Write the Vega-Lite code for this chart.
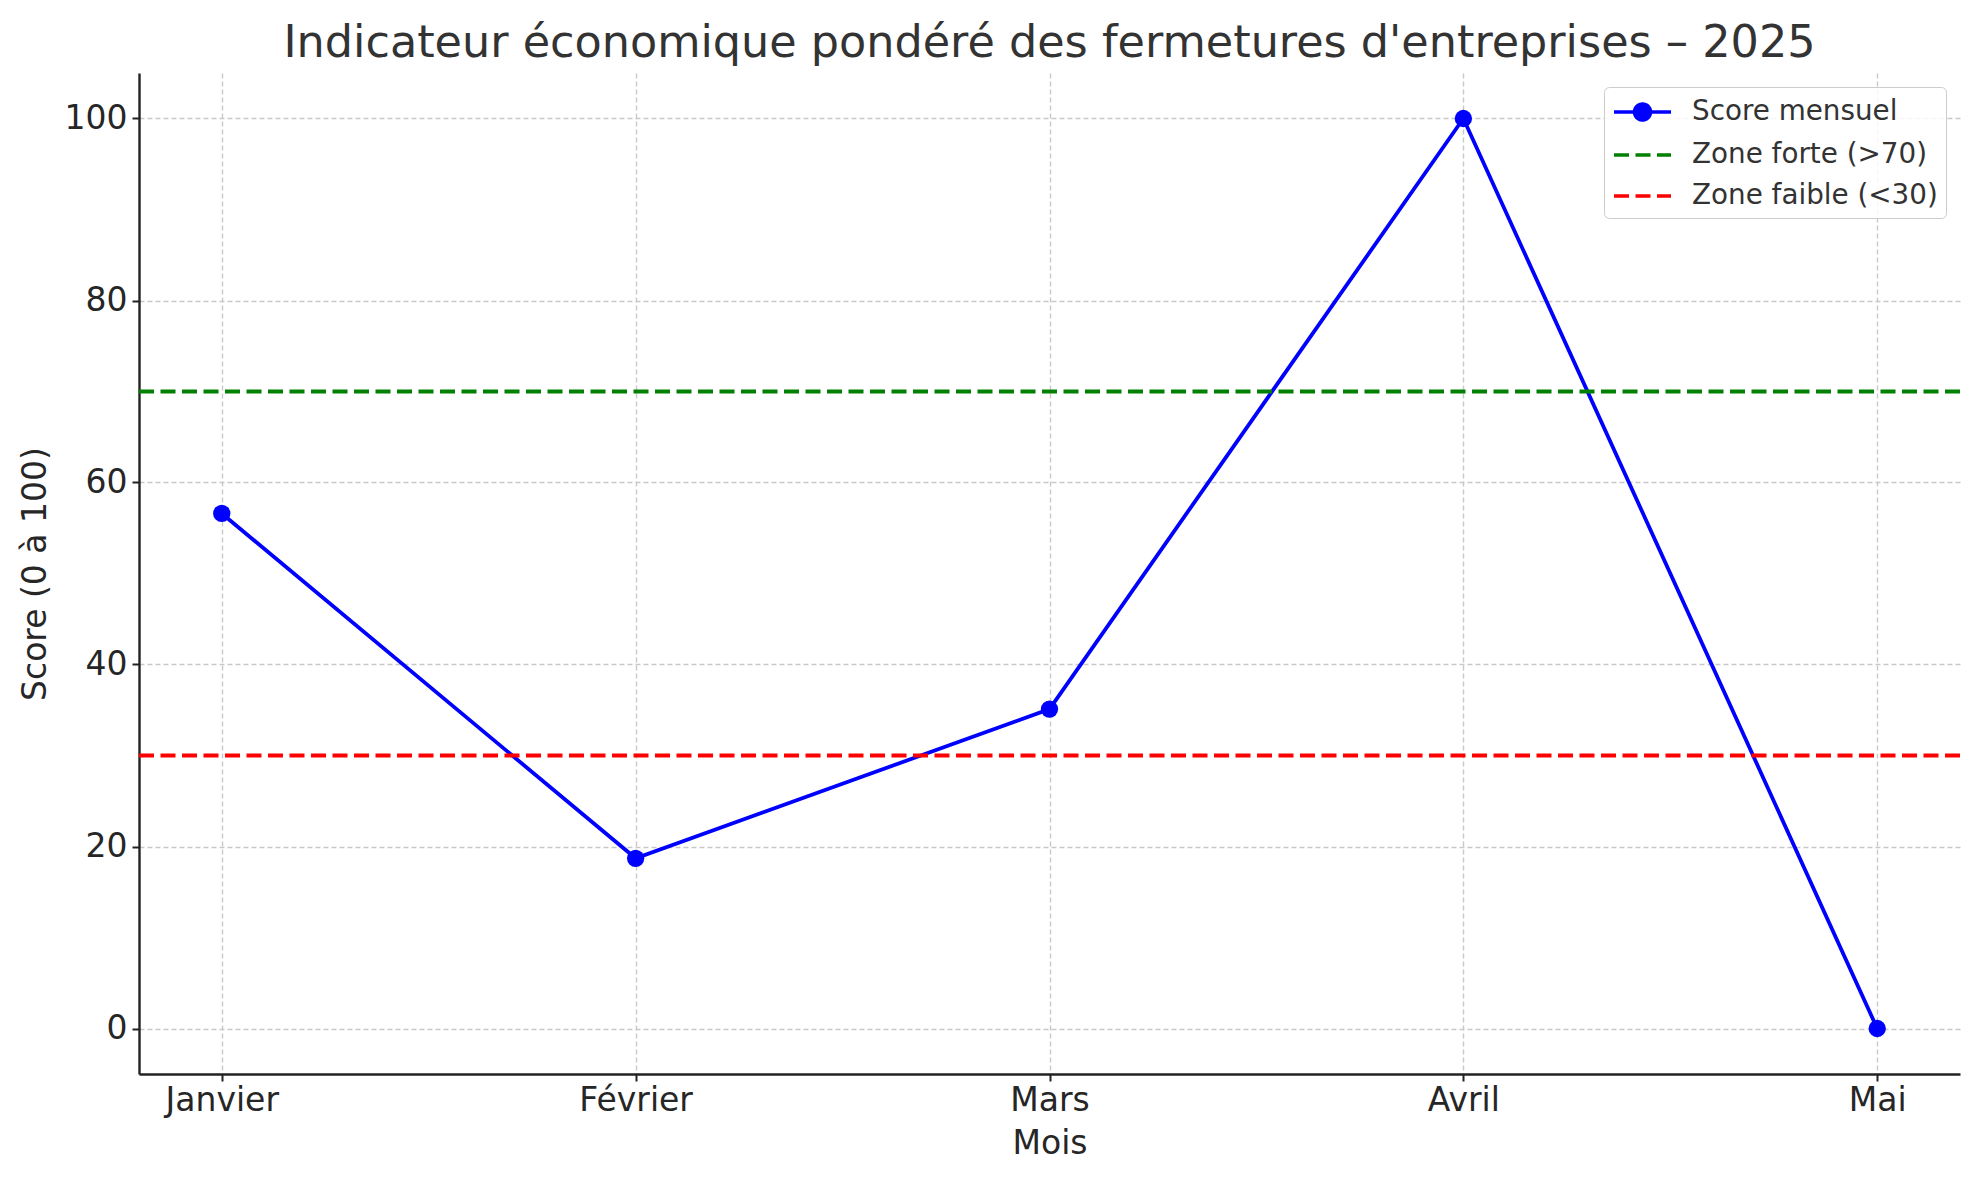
{
  "$schema": "https://vega.github.io/schema/vega-lite/v6.json",
  "width": 1821,
  "height": 1001,
  "autosize": "none",
  "padding": {"left": 139, "top": 73, "right": 19, "bottom": 106},
  "background": "white",
  "config": {
    "font": "DejaVu Sans",
    "view": {"stroke": null},
    "axis": {
      "labelFont": "DejaVu Sans",
      "titleFont": "DejaVu Sans",
      "labelFontSize": 33,
      "titleFontSize": 33,
      "titleFontWeight": "normal",
      "labelColor": "#262626",
      "titleColor": "#262626",
      "domainColor": "#222222",
      "domainWidth": 2.4,
      "tickColor": "#222222",
      "tickWidth": 2,
      "tickSize": 7,
      "grid": true,
      "gridColor": "#c8c8c8",
      "gridDash": [5, 3],
      "gridWidth": 1.4
    }
  },
  "title": {
    "text": "Indicateur économique pondéré des fermetures d'entreprises – 2025",
    "fontSize": 44.5,
    "font": "DejaVu Sans",
    "fontWeight": "normal",
    "color": "#333333",
    "anchor": "middle",
    "frame": "group",
    "offset": 16,
    "dy": 44,
    "baseline": "alphabetic"
  },
  "datasets": {
    "scores": [
      {"mois": "Janvier", "score": 56.6, "serie": "Score mensuel"},
      {"mois": "Février", "score": 18.7, "serie": "Score mensuel"},
      {"mois": "Mars", "score": 35.1, "serie": "Score mensuel"},
      {"mois": "Avril", "score": 100, "serie": "Score mensuel"},
      {"mois": "Mai", "score": 0, "serie": "Score mensuel"}
    ],
    "seuils": [
      {"serie": "Zone forte (>70)", "seuil": 70},
      {"serie": "Zone faible (<30)", "seuil": 30}
    ]
  },
  "layer": [
    {
      "data": {"name": "scores"},
      "mark": {"type": "line", "strokeWidth": 3.8, "point": {"filled": true, "size": 300, "opacity": 1}},
      "encoding": {
        "x": {
          "field": "mois",
          "type": "ordinal",
          "sort": ["Janvier", "Février", "Mars", "Avril", "Mai"],
          "scale": {"type": "point", "padding": 0.2},
          "axis": {"title": "Mois", "labelAngle": 0, "labelPadding": 3, "titlePadding": 10}
        },
        "y": {
          "field": "score",
          "type": "quantitative",
          "scale": {"domain": [-5, 105], "nice": false, "zero": false},
          "axis": {"title": "Score (0 à 100)", "values": [0, 20, 40, 60, 80, 100], "labelPadding": 5, "titlePadding": 12}
        },
        "color": {
          "field": "serie",
          "type": "nominal",
          "scale": {
            "domain": ["Score mensuel", "Zone forte (>70)", "Zone faible (<30)"],
            "range": ["#0000ff", "#008000", "#ff0000"]
          },
          "legend": {
            "title": null,
            "orient": "top-right",
            "offset": 14,
            "padding": 8,
            "strokeColor": "#cccccc",
            "fillColor": "rgba(255,255,255,0.85)",
            "cornerRadius": 5,
            "labelFontSize": 27.8,
            "labelFont": "DejaVu Sans",
            "labelColor": "#333333",
            "labelLimit": 0,
            "labelOffset": 46,
            "symbolSize": 900,
            "rowPadding": 10,
            "encode": {
              "symbols": {
                "update": {
                  "shape": {"signal": "datum.value === 'Score mensuel' ? 'M-1,0H2.8M0.37,0A0.53,0.53,0,1,1,1.43,0A0.53,0.53,0,1,1,0.37,0' : 'M-1,0H2.8'"},
                  "fill": {"signal": "datum.value === 'Score mensuel' ? '#0000ff' : 'transparent'"},
                  "strokeDash": {"signal": "datum.value === 'Score mensuel' ? [1,0] : [15,6.5]"},
                  "strokeWidth": {"value": 3.6},
                  "opacity": {"value": 1}
                }
              }
            }
          }
        }
      }
    },
    {
      "data": {"name": "seuils"},
      "mark": {"type": "rule", "strokeWidth": 3.8, "strokeDash": [15, 6.5]},
      "encoding": {
        "y": {
          "field": "seuil",
          "type": "quantitative",
          "scale": {"domain": [-5, 105], "nice": false, "zero": false},
          "axis": {"title": "Score (0 à 100)", "values": [0, 20, 40, 60, 80, 100], "labelPadding": 5, "titlePadding": 12}
        },
        "color": {"field": "serie", "type": "nominal"}
      }
    }
  ]
}
